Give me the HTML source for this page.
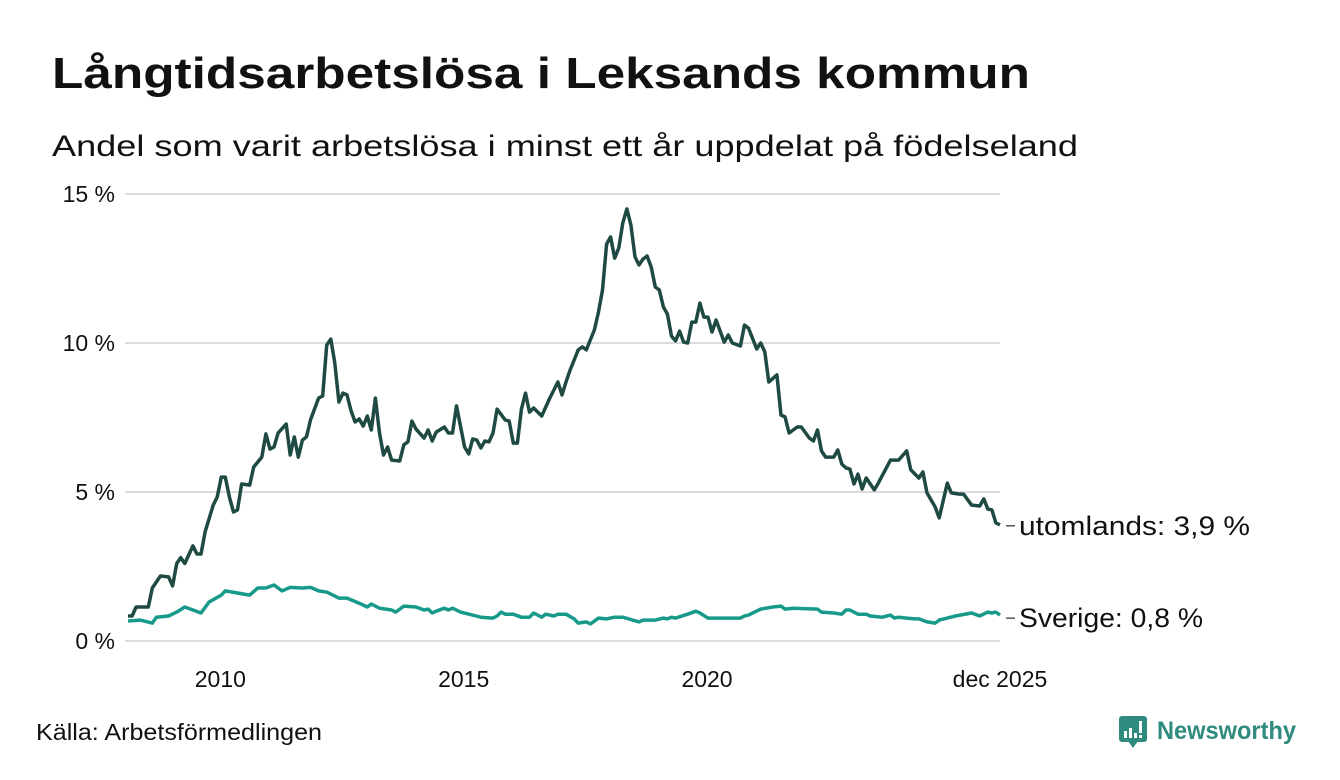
<!DOCTYPE html>
<html><head><meta charset="utf-8">
<style>
html,body{margin:0;padding:0;background:#fff;}
svg{display:block;font-family:"Liberation Sans",sans-serif;}
</style></head>
<body>
<svg id="chart" width="1340" height="780" viewBox="0 0 1340 780">
  <text x="52" y="88" font-size="44" font-weight="bold" fill="#111" textLength="978" lengthAdjust="spacingAndGlyphs">Långtidsarbetslösa i Leksands kommun</text>
  <text x="52" y="156" font-size="30" fill="#111" textLength="1026" lengthAdjust="spacingAndGlyphs">Andel som varit arbetslösa i minst ett år uppdelat på födelseland</text>
  <g id="grid"></g>
  <g id="yaxis"></g>
  <g id="xaxis"></g>
  <g id="series"></g>
  <g id="labels"></g>
  <text x="36" y="740" font-size="23" fill="#111" textLength="286" lengthAdjust="spacingAndGlyphs">Källa: Arbetsförmedlingen</text>
  <g>
    <rect x="1119" y="716" width="28" height="26" rx="3" fill="#2e8b7e"/>
    <polygon points="1128,741 1138,741 1133,748" fill="#2e8b7e"/>
    <rect x="1124" y="731" width="3" height="7" fill="#fff"/>
    <rect x="1129" y="728" width="3" height="10" fill="#fff"/>
    <rect x="1134" y="733" width="3" height="5" fill="#fff"/>
    <rect x="1139" y="721" width="3" height="12" fill="#fff"/>
    <rect x="1139" y="735" width="3" height="3" fill="#fff"/>
    <text x="1157" y="739" font-size="25" font-weight="bold" fill="#2e8b7e" textLength="139" lengthAdjust="spacingAndGlyphs">Newsworthy</text>
  </g>
</svg>
<script>
// months since Jan 2008
const abroadMonths = [0,1,2,5,6,8,10,11,12,13,14,16,17,18,19,21,22,23,24,25,26,27,28,30,31,33,34,35,36,37,39,40,41,42,43,44,45,47,48,49,50,51,52,53,54,55,56,57,58,59,60,61,62,63,64,65,67,68,69,70,71,73,74,75,76,78,79,80,81,83,84,85,86,87,88,89,90,91,93,94,95,96,97,98,99,100,102,104,106,107,108,109,111,112,113,115,116,117,118,119,120,121,122,123,124,125,126,127,128,129,130,131,132,133,134,135,136,137,138,139,140,141,142,143,144,145,147,148,149,151,152,153,155,156,157,158,160,161,162,163,165,166,168,169,170,171,172,174,175,176,177,178,179,180,181,182,184,185,188,189,190,192,193,195,196,197,199,200,202,203,205,206,208,210,211,212,213,214,215];
const abroadValues = [0.84,0.84,1.14,1.14,1.78,2.18,2.15,1.85,2.6,2.8,2.6,3.19,2.92,2.92,3.66,4.56,4.83,5.5,5.5,4.83,4.33,4.4,5.27,5.23,5.84,6.17,6.95,6.44,6.51,6.98,7.28,6.24,6.85,6.17,6.74,6.85,7.42,8.15,8.22,9.93,10.13,9.33,8.02,8.32,8.26,7.72,7.35,7.45,7.21,7.55,7.08,8.15,6.98,6.24,6.51,6.07,6.04,6.58,6.68,7.38,7.11,6.81,7.08,6.71,7.01,7.18,6.98,6.98,7.89,6.51,6.28,6.78,6.74,6.48,6.71,6.68,6.98,7.78,7.42,7.38,6.64,6.64,7.78,8.32,7.68,7.82,7.55,8.15,8.69,8.26,8.69,9.09,9.77,9.87,9.77,10.44,11.04,11.78,13.32,13.56,12.85,13.19,14.03,14.5,13.96,12.89,12.62,12.82,12.92,12.55,11.88,11.78,11.21,10.97,10.23,10.07,10.4,10.03,10.0,10.7,10.7,11.34,10.87,10.87,10.37,10.77,10.03,10.27,10.0,9.9,10.6,10.5,9.8,10.0,9.7,8.69,8.93,7.58,7.52,6.98,7.18,7.18,6.81,6.71,7.08,6.38,6.17,6.17,6.41,5.94,5.81,5.77,5.27,5.6,5.1,5.47,5.07,5.3,6.07,6.07,6.07,6.38,5.74,5.47,5.67,4.97,4.5,4.13,5.3,4.97,4.93,4.93,4.56,4.53,4.77,4.43,4.4,3.96,3.9];
const swedenMonths = [0,3,6,7,10,12,14,18,20,23,24,27,30,32,34,36,38,40,43,45,47,49,52,54,57,59,60,62,65,66,68,71,73,74,75,76,78,79,80,82,87,90,91,92,93,95,97,99,100,102,103,105,106,108,110,111,113,114,116,118,120,122,126,127,130,132,133,134,135,138,140,141,143,146,151,152,153,156,159,161,162,164,170,171,174,176,177,178,180,182,183,186,188,189,190,192,194,195,197,199,200,202,204,208,210,212,213,214,215];
const swedenValues = [0.67,0.7,0.6,0.8,0.84,0.97,1.14,0.94,1.31,1.54,1.68,1.61,1.54,1.78,1.78,1.88,1.68,1.8,1.78,1.8,1.68,1.64,1.44,1.44,1.27,1.14,1.24,1.1,1.04,0.97,1.17,1.14,1.04,1.07,0.94,1.0,1.1,1.04,1.1,0.97,0.8,0.77,0.84,0.97,0.9,0.9,0.8,0.8,0.94,0.8,0.9,0.84,0.9,0.9,0.74,0.6,0.64,0.57,0.77,0.74,0.8,0.8,0.64,0.7,0.7,0.77,0.74,0.8,0.77,0.9,1.0,0.94,0.77,0.77,0.77,0.84,0.87,1.07,1.14,1.17,1.07,1.1,1.07,0.97,0.94,0.9,1.04,1.04,0.9,0.9,0.84,0.8,0.87,0.77,0.8,0.77,0.74,0.74,0.64,0.6,0.7,0.77,0.84,0.94,0.84,0.97,0.94,0.97,0.87];
const yTicks = [0,5,10,15];
const yTickLabels = ["0 %","5 %","10 %","15 %"];
const xTicks = [24,84,144,215];
const xTickLabels = ["2010","2015","2020","dec 2025"];
const seriesNames = ["utomlands: 3,9 %","Sverige: 0,8 %"];

const NS="http://www.w3.org/2000/svg";
const X0=128, X1=1000, MMAX=215, Y0=641, YPER=29.8;
const x=m=>X0+(m/MMAX)*(X1-X0);
const y=v=>Y0-v*YPER;
function mk(tag,attrs,parent){const e=document.createElementNS(NS,tag);for(const k in attrs)e.setAttribute(k,attrs[k]);parent.appendChild(e);return e;}
const grid=document.getElementById('grid'),ya=document.getElementById('yaxis'),xa=document.getElementById('xaxis'),ser=document.getElementById('series'),lab=document.getElementById('labels');
yTicks.forEach((t,i)=>{
  const l=mk('line',{x1:125,x2:1000,y1:y(t),y2:y(t),stroke:'#dcdce0','stroke-width':2},grid);
  
  
  const tx=mk('text',{x:115,y:y(t)+8,'font-size':23,'text-anchor':'end',fill:'#111'},ya);
  tx.textContent=yTickLabels[i];
  
  
});
xTicks.forEach((t,i)=>{
  const tx=mk('text',{x:x(t)-(i===3?0:5),y:687,'font-size':23,'text-anchor':'middle',fill:'#111'},xa);
  tx.textContent=xTickLabels[i];
  
  
});
function line(ms,vs,color,name){
  const d=ms.map((m,i)=>(i?'L':'M')+x(m).toFixed(1)+','+y(vs[i]).toFixed(1)).join(' ');
  const p=mk('path',{d:d,fill:'none',stroke:color,'stroke-width':3.5,'stroke-linejoin':'round'},ser);
  
  
}
line(swedenMonths,swedenValues,'#189a8a','line-sverige');
line(abroadMonths,abroadValues,'#1f4a43','line-utomlands');
const labelWidths=[231,184];
[[abroadValues[abroadValues.length-1],seriesNames[0]],[0.8,seriesNames[1]]].forEach((e,i)=>{
  const yy=y(e[0]);
  const l=mk('line',{x1:1006,x2:1015,y1:yy+1,y2:yy+1,stroke:'#555','stroke-width':1.5},lab);
  
  
  const tx=mk('text',{x:1019,y:yy+10,'font-size':27,fill:'#111',textLength:labelWidths[i],lengthAdjust:'spacingAndGlyphs'},lab);
  tx.textContent=e[1];
  
  
});
</script>
</body></html>
